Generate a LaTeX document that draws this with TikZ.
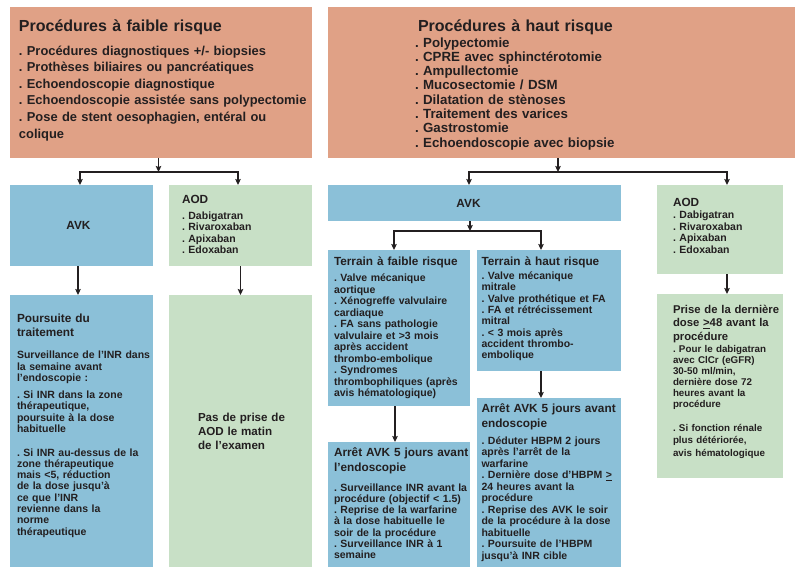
\documentclass[tikz,border=0pt]{standalone}
\usepackage{fontspec}
\setmainfont{Liberation Sans}
\usetikzlibrary{arrows.meta,calc}
\frenchspacing

\definecolor{salmon}{RGB}{224,161,134}
\definecolor{avkblue}{RGB}{139,192,216}
\definecolor{aodgreen}{RGB}{200,224,198}
\definecolor{ink}{RGB}{35,31,32}

% font size / leading shortcut
\newcommand\fsz[2]{\fontsize{#1}{#2}\selectfont}
% coloured panel: name, colour, x, y (top-left), width, height
\newcommand\panel[6]{%
  \node[panel, fill=#2, minimum width=#5pt, minimum height=#6pt] (#1) at (#3,#4) {};}

\tikzset{
  panel/.style={draw=none, inner sep=0pt, outer sep=0pt, anchor=north west},
  txt/.style={anchor=base west, inner sep=0pt, outer sep=0pt, align=left,
              text=ink, text width=#1},
  txt/.default=150pt,
  title/.style={txt=300pt, font=\bfseries\fsz{16}{19}},
  big/.style={txt=300pt, font=\bfseries\fsz{12.9}{16.6}},
  head/.style={txt, font=\bfseries\fsz{11.8}{15}},
  body/.style={txt, font=\bfseries\fsz{10.5}{11.5}},
  arr/.style={draw=ink, line width=1.4pt,
              -{Stealth[length=6pt, width=5.5pt, inset=1pt]}},
}

\begin{document}
\begin{tikzpicture}[x=1pt, y=-1pt]
\useasboundingbox (0,0) rectangle (795,568);
\fill[white] (0,0) rectangle (795,568);

% ---------- panels ----------
\panel{lowproc}{salmon}{10}{7}{302}{151}
\panel{highproc}{salmon}{328}{7}{467}{151}
\panel{avkL}{avkblue}{10}{185}{143}{81}
\panel{aodL}{aodgreen}{169}{185}{143}{81}
\panel{keepL}{avkblue}{10}{295}{143}{272}
\panel{nodoseL}{aodgreen}{169}{295}{143}{272}
\panel{avkM}{avkblue}{328}{185}{293}{36}
\panel{lowterr}{avkblue}{328}{250}{142}{156}
\panel{highterr}{avkblue}{477}{250}{144}{121}
\panel{stopLow}{avkblue}{328}{442}{142}{125}
\panel{stopHigh}{avkblue}{477}{398}{144}{169}
\panel{aodR}{aodgreen}{657}{185}{126}{89}
\panel{lastdose}{aodgreen}{657}{294}{126}{184}

% ---------- connectors ----------
\coordinate (j1) at (158.5,172);
\coordinate (j2) at (558,172);
\coordinate (j3) at (470,231);

\draw[arr] (lowproc.south -| j1) -- (j1);
\draw[arr] (j1) -| ([xshift=-1.5pt]avkL.north);
\draw[arr] (j1) -| ([xshift=-2.5pt]aodL.north);
\draw[arr] ([xshift=-3.5pt]avkL.south) -- ([xshift=-3.5pt]keepL.north);
\draw[arr] (aodL.south) -- (nodoseL.north);

\draw[arr] (highproc.south -| j2) -- (j2);
\draw[arr] (j2) -| ([xshift=-5.5pt]avkM.north);
\draw[arr] (j2) -| ([xshift=7pt]aodR.north);
\draw[arr] (avkM.south -| j3) -- (j3);
\draw[arr] (j3) -| ([xshift=-5pt]lowterr.north);
\draw[arr] (j3) -| ([xshift=-8pt]highterr.north);
\draw[arr] ([xshift=-4pt]lowterr.south) -- ([xshift=-4pt]stopLow.north);
\draw[arr] ([xshift=-8pt]highterr.south) -- ([xshift=-8pt]stopHigh.north);
\draw[arr] ([xshift=7pt]aodR.south) -- ([xshift=7pt]lastdose.north);

% ---------- low-risk procedures ----------
\node[title] (lowprocT) at (19,31.5) {Procédures à faible risque};
\node[big] (lowprocB) at (19,55) {. Procédures diagnostiques +/- biopsies\\
. Prothèses biliaires ou pancréatiques\\
. Echoendoscopie diagnostique\\
. Echoendoscopie assistée sans polypectomie\\
. Pose de stent oesophagien, entéral ou\\
colique};

% ---------- high-risk procedures ----------
\node[title] (highprocT) at (418,31.5) {Procédures à haut risque};
\node[big, font=\bfseries\fsz{13.3}{14.3}] (highprocB) at (415,47) {. Polypectomie\\
. CPRE avec sphinctérotomie\\
. Ampullectomie\\
. Mucosectomie / DSM\\
. Dilatation de stènoses\\
. Traitement des varices\\
. Gastrostomie\\
. Echoendoscopie avec biopsie};

% ---------- low-risk branch ----------
\node[head, anchor=center, text width=] (avkLT) at ([xshift=-3pt]avkL.center) {AVK};
\node[head] (aodLT) at (182,203) {AOD};
\node[body] (aodLB) at (182,219) {. Dabigatran\\. Rivaroxaban\\. Apixaban\\. Edoxaban};

\node[head, font=\bfseries\fsz{11.8}{14.5}] (keepLT) at (17,322) {Poursuite du\\traitement};
\node[body] (keepLB1) at (17,358.5) {Surveillance de l’INR dans\\la semaine avant\\l’endoscopie :};
\node[body] (keepLB2) at (17,398) {. Si INR dans la zone\\thérapeutique,\\poursuite à la dose\\habituelle};
\node[body, font=\bfseries\fsz{10.5}{11.3}] (keepLB3) at (17,456) {. Si INR au-dessus de la\\zone thérapeutique\\mais <5, réduction\\de la dose jusqu’à\\ce que l’INR\\revienne dans la\\norme\\thérapeutique};

\node[head, font=\bfseries\fsz{11.6}{14}] (nodoseLT) at (198,421) {Pas de prise de\\AOD le matin\\de l’examen};

% ---------- high-risk branch: AVK ----------
\node[head, anchor=center, text width=] (avkMT) at ([xshift=-6pt]avkM.center) {AVK};

\node[head] (lowterrT) at (334,265) {Terrain à faible risque};
\node[body] (lowterrB) at (334,281.5) {. Valve mécanique\\aortique\\. Xénogreffe valvulaire\\cardiaque\\. FA sans pathologie\\valvulaire et >3 mois\\après accident\\thrombo-embolique\\. Syndromes\\thrombophiliques (après\\avis hématologique)};

\node[head] (highterrT) at (481.5,265) {Terrain à haut risque};
\node[body, font=\bfseries\fsz{10.5}{11.3}] (highterrB) at (481.5,279.5) {. Valve mécanique\\mitrale\\. Valve prothétique et FA\\. FA et rétrécissement\\mitral\\. < 3 mois après\\accident thrombo-\\embolique};

\node[head] (stopLowT) at (334,456) {Arrêt AVK 5 jours avant\\l’endoscopie};
\node[body, font=\bfseries\fsz{10.5}{11.3}] (stopLowB) at (334,491) {. Surveillance INR avant la\\procédure (objectif < 1.5)\\. Reprise de la warfarine\\à la dose habituelle le\\soir de la procédure\\. Surveillance INR à 1\\semaine};

\node[head] (stopHighT) at (481.5,412) {Arrêt AVK 5 jours avant\\endoscopie};
\node[body, font=\bfseries\fsz{10.5}{11.55}] (stopHighB) at (481.5,444) {. Déduter HBPM 2 jours\\après l’arrêt de la\\warfarine\\. Dernière dose d’HBPM \underline{>}\\24 heures avant la\\procédure\\. Reprise des AVK le soir\\de la procédure à la dose\\habituelle\\. Poursuite de l’HBPM\\jusqu’à INR cible};

% ---------- high-risk branch: AOD ----------
\node[head] (aodRT) at (673,206) {AOD};
\node[body] (aodRB) at (673,218.5) {. Dabigatran\\. Rivaroxaban\\. Apixaban\\. Edoxaban};

\node[head, font=\bfseries\fsz{11.3}{13.5}] (lastdoseT) at (673,313) {Prise de la dernière\\dose \underline{>}48 avant la\\procédure};
\node[body, font=\bfseries\fsz{9.8}{11}] (lastdoseB1) at (673,352) {. Pour le dabigatran\\avec ClCr (eGFR)\\30-50 ml/min,\\dernière dose 72\\heures avant la\\procédure};
\node[body, font=\bfseries\fsz{9.8}{12.5}] (lastdoseB2) at (673,431) {. Si fonction rénale\\plus détériorée,\\avis hématologique};
\end{tikzpicture}
\end{document}
